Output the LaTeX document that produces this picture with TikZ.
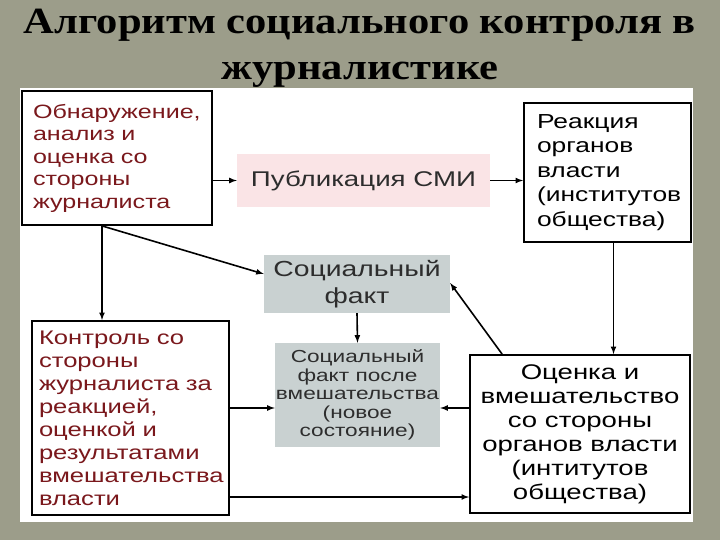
\documentclass[tikz,border=0pt]{standalone}
\usepackage{fontspec}
\setmainfont{Liberation Sans}
\newfontfamily\boxfont[FakeStretch=1.3]{Liberation Sans}
\newfontfamily\titlefont[FakeStretch=1.15]{Liberation Serif}
\usetikzlibrary{calc}
\definecolor{bgslide}{RGB}{156,157,138}
\definecolor{darkred}{RGB}{122,24,28}
\definecolor{pubpink}{RGB}{250,228,230}
\definecolor{factgray}{RGB}{201,209,209}
\definecolor{txtgray}{RGB}{45,45,45}
\begin{document}
\begin{tikzpicture}[x=1pt,y=-1pt,
  box/.style={draw=black,line width=1.8pt,fill=white,inner sep=0pt,text=black},
  redbox/.style={box,text=darkred,align=left},
  factbox/.style={fill=factgray,inner sep=0pt,text=txtgray,align=center},
  link/.style={line width=1.6pt,-latex}]
\useasboundingbox (0,0) rectangle (720,540);
\fill[bgslide] (0,0) rectangle (720,540);
\fill[white] (20,88) rectangle (693,522);
\node[font=\titlefont\bfseries\fontsize{37}{46}\selectfont,align=center] (title) at (360,48) {Алгоритм социального контроля в\\журналистике};
\node[redbox,text width=168pt,minimum width=190pt,minimum height=134pt,font=\boxfont\fontsize{19.3}{22.5}\selectfont] (detect) at (117,158) {Обнаружение,\\анализ и\\оценка со\\стороны\\журналиста};
\node[fill=pubpink,minimum width=253pt,minimum height=53pt,inner sep=0pt,text=txtgray,font=\boxfont\fontsize{21.3}{24}\selectfont] (pub) at (363.5,180.5) {Публикация СМИ};
\node[box,align=left,text width=141pt,minimum width=167pt,minimum height=139pt,font=\boxfont\fontsize{20.3}{24.5}\selectfont] (react) at (607.5,172.5) {Реакция\\органов\\власти\\(институтов\\общества)};
\node[factbox,minimum width=186pt,minimum height=58pt,font=\boxfont\fontsize{21.8}{27}\selectfont] (fact) at (357,284) {Социальный\\факт};
\node[factbox,minimum width=165pt,minimum height=104pt,font=\boxfont\fontsize{17.4}{18.5}\selectfont] (after) at (357.5,395) {Социальный\\факт после\\вмешательства\\(новое\\состояние)};
\node[redbox,text width=183pt,minimum width=197pt,minimum height=194pt,font=\boxfont\fontsize{19.7}{23}\selectfont] (control) at (130.5,418) {Контроль со\\стороны\\журналиста за\\реакцией,\\оценкой и\\результатами\\вмешательства\\власти};
\node[box,align=center,minimum width=220pt,minimum height=158pt,font=\boxfont\fontsize{21.2}{24}\selectfont] (assess) at (580,434) {Оценка и\\вмешательство\\со стороны\\органов власти\\(интитутов\\общества)};
\coordinate (fork) at ([xshift=-15pt]detect.south);
\coordinate (midL) at ([yshift=-13pt]after.west);
\coordinate (midR) at ([yshift=-13pt]after.east);
\coordinate (low) at ([yshift=-79pt]control.east);
\draw[link] (detect.east |- pub.west) -- (pub.west);
\draw[link] (pub.east) -- (react.west |- pub.east);
\draw[link] (fork) -- ([yshift=10pt]fact.west);
\draw[link] (fork) -- (fork |- control.north);
\draw[link] ([xshift=6pt]react.south) -- ([xshift=6pt]react.south |- assess.north);
\draw[link] ([xshift=33pt]assess.north west) -- ([yshift=1pt]fact.east);
\draw[link] (fact.south) -- (after.north);
\draw[link] (control.east |- midL) -- (midL);
\draw[link] (assess.west |- midR) -- (midR);
\draw[link] (low) -- (assess.west |- low);
\end{tikzpicture}
\end{document}
